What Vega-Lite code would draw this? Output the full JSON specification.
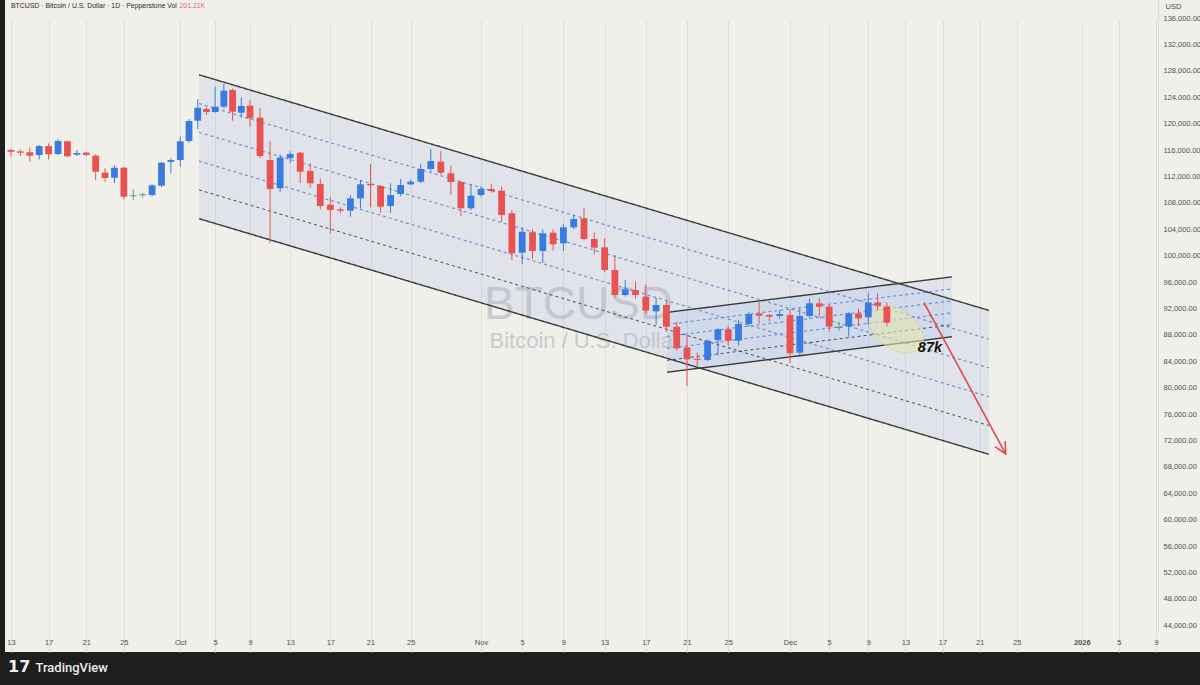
{
  "$schema": "https://vega.github.io/schema/vega-lite/v6.json",
  "autosize": {"type": "none"},
  "width": 1195,
  "height": 652,
  "padding": {"left": 5, "top": 0, "right": 0, "bottom": 33},
  "background": "#1e1e1e",
  "config": {
    "view": {"fill": "#f0efe9", "stroke": null},
    "font": "Liberation Sans",
    "axis": {"labelOverlap": false}
  },
  "datasets": {
    "candles": [
      {"d": "2025-09-13", "o": 116000, "h": 116200, "l": 115000, "c": 115750},
      {"d": "2025-09-14", "o": 115800, "h": 116110, "l": 115100, "c": 115590},
      {"d": "2025-09-15", "o": 115650, "h": 116410, "l": 114230, "c": 115140},
      {"d": "2025-09-16", "o": 115240, "h": 116760, "l": 114590, "c": 116610},
      {"d": "2025-09-17", "o": 116600, "h": 117010, "l": 114590, "c": 115350},
      {"d": "2025-09-18", "o": 115400, "h": 117670, "l": 115240, "c": 117360},
      {"d": "2025-09-19", "o": 117320, "h": 117400, "l": 114900, "c": 115050},
      {"d": "2025-09-20", "o": 115300, "h": 116000, "l": 115100, "c": 115550},
      {"d": "2025-09-21", "o": 115600, "h": 115700, "l": 115100, "c": 115250},
      {"d": "2025-09-22", "o": 115140, "h": 115350, "l": 111460, "c": 112710},
      {"d": "2025-09-23", "o": 112560, "h": 113230, "l": 111200, "c": 111760},
      {"d": "2025-09-24", "o": 111800, "h": 113700, "l": 111000, "c": 113320},
      {"d": "2025-09-25", "o": 113320, "h": 113470, "l": 108530, "c": 108930},
      {"d": "2025-09-26", "o": 109000, "h": 110050, "l": 108430, "c": 109150},
      {"d": "2025-09-27", "o": 109150, "h": 109530, "l": 108830, "c": 109300},
      {"d": "2025-09-28", "o": 109180, "h": 110800, "l": 108980, "c": 110650},
      {"d": "2025-09-29", "o": 110600, "h": 114200, "l": 110400, "c": 114080},
      {"d": "2025-09-30", "o": 114200, "h": 114740, "l": 112470, "c": 114490},
      {"d": "2025-10-01", "o": 114490, "h": 118020, "l": 113470, "c": 117320},
      {"d": "2025-10-02", "o": 117370, "h": 120700, "l": 117100, "c": 120400},
      {"d": "2025-10-03", "o": 120440, "h": 123680, "l": 119140, "c": 122410},
      {"d": "2025-10-04", "o": 122210, "h": 122470, "l": 121300, "c": 121760},
      {"d": "2025-10-05", "o": 121760, "h": 125590, "l": 121650, "c": 122560},
      {"d": "2025-10-06", "o": 122560, "h": 126000, "l": 122300, "c": 124990},
      {"d": "2025-10-07", "o": 125090, "h": 125300, "l": 120440, "c": 121800},
      {"d": "2025-10-08", "o": 121650, "h": 123990, "l": 120900, "c": 122670},
      {"d": "2025-10-09", "o": 122720, "h": 123580, "l": 119530, "c": 120800},
      {"d": "2025-10-10", "o": 120900, "h": 122320, "l": 114790, "c": 115090},
      {"d": "2025-10-11", "o": 114490, "h": 117400, "l": 101870, "c": 110090},
      {"d": "2025-10-12", "o": 110200, "h": 115300, "l": 109600, "c": 114840},
      {"d": "2025-10-13", "o": 114760, "h": 115800, "l": 114000, "c": 115400},
      {"d": "2025-10-14", "o": 115590, "h": 115700, "l": 111000, "c": 112710},
      {"d": "2025-10-15", "o": 112820, "h": 114000, "l": 110300, "c": 110960},
      {"d": "2025-10-16", "o": 110850, "h": 111700, "l": 107000, "c": 107520},
      {"d": "2025-10-17", "o": 107720, "h": 108900, "l": 103380, "c": 106910},
      {"d": "2025-10-18", "o": 107020, "h": 107320, "l": 106410, "c": 106810},
      {"d": "2025-10-19", "o": 106810, "h": 109180, "l": 105900, "c": 108680},
      {"d": "2025-10-20", "o": 108680, "h": 111460, "l": 107170, "c": 110810},
      {"d": "2025-10-21", "o": 110850, "h": 113880, "l": 107320, "c": 110650},
      {"d": "2025-10-22", "o": 110550, "h": 110700, "l": 106500, "c": 107410},
      {"d": "2025-10-23", "o": 107520, "h": 110950, "l": 106500, "c": 109180},
      {"d": "2025-10-24", "o": 109330, "h": 111600, "l": 109000, "c": 110700},
      {"d": "2025-10-25", "o": 110800, "h": 111500, "l": 110700, "c": 111200},
      {"d": "2025-10-26", "o": 111200, "h": 113900, "l": 111000, "c": 113120},
      {"d": "2025-10-27", "o": 113120, "h": 116150, "l": 112700, "c": 114340},
      {"d": "2025-10-28", "o": 114230, "h": 115850, "l": 112300, "c": 112560},
      {"d": "2025-10-29", "o": 112470, "h": 113600, "l": 109200, "c": 111150},
      {"d": "2025-10-30", "o": 111150, "h": 111300, "l": 106000, "c": 107170},
      {"d": "2025-10-31", "o": 107170, "h": 110800, "l": 106900, "c": 109080},
      {"d": "2025-11-01", "o": 109180, "h": 110500, "l": 108900, "c": 110090},
      {"d": "2025-11-02", "o": 110090, "h": 110900, "l": 109500, "c": 109790},
      {"d": "2025-11-03", "o": 109840, "h": 110450, "l": 105100, "c": 106160},
      {"d": "2025-11-04", "o": 106410, "h": 106910, "l": 99340, "c": 100350},
      {"d": "2025-11-05", "o": 100450, "h": 104300, "l": 98730, "c": 103620},
      {"d": "2025-11-06", "o": 103530, "h": 104000, "l": 99500, "c": 100700},
      {"d": "2025-11-07", "o": 100700, "h": 104000, "l": 98900, "c": 103380},
      {"d": "2025-11-08", "o": 103480, "h": 104000, "l": 100750, "c": 101720},
      {"d": "2025-11-09", "o": 101870, "h": 104750, "l": 100700, "c": 104290},
      {"d": "2025-11-10", "o": 104290, "h": 106200, "l": 104000, "c": 105550},
      {"d": "2025-11-11", "o": 105650, "h": 107170, "l": 102300, "c": 102520},
      {"d": "2025-11-12", "o": 102520, "h": 103500, "l": 100200, "c": 101200},
      {"d": "2025-11-13", "o": 101260, "h": 102600, "l": 97500, "c": 97820},
      {"d": "2025-11-14", "o": 97820, "h": 100090, "l": 93700, "c": 94030},
      {"d": "2025-11-15", "o": 94030, "h": 96300, "l": 93800, "c": 94900},
      {"d": "2025-11-16", "o": 94800, "h": 96100, "l": 93500, "c": 94030},
      {"d": "2025-11-17", "o": 93780, "h": 95700, "l": 91200, "c": 91660},
      {"d": "2025-11-18", "o": 91560, "h": 93600, "l": 89500, "c": 92520},
      {"d": "2025-11-19", "o": 92520, "h": 93200, "l": 88400, "c": 89230},
      {"d": "2025-11-20", "o": 89230, "h": 90000, "l": 85600, "c": 85960},
      {"d": "2025-11-21", "o": 86100, "h": 88000, "l": 80250, "c": 84290},
      {"d": "2025-11-22", "o": 84380, "h": 85300, "l": 83300, "c": 84200},
      {"d": "2025-11-23", "o": 84200, "h": 87300, "l": 84000, "c": 87110},
      {"d": "2025-11-24", "o": 87200, "h": 89000, "l": 84900, "c": 88840},
      {"d": "2025-11-25", "o": 88840, "h": 89300, "l": 86400, "c": 87110},
      {"d": "2025-11-26", "o": 87110, "h": 90300, "l": 86400, "c": 89640},
      {"d": "2025-11-27", "o": 89640, "h": 91500, "l": 89230, "c": 91160},
      {"d": "2025-11-28", "o": 91250, "h": 93200, "l": 89650, "c": 90900},
      {"d": "2025-11-29", "o": 91000, "h": 91160, "l": 90000, "c": 90750},
      {"d": "2025-11-30", "o": 90850, "h": 91760, "l": 90400, "c": 91150},
      {"d": "2025-12-01", "o": 91000, "h": 91800, "l": 83700, "c": 85200},
      {"d": "2025-12-02", "o": 85300, "h": 92020, "l": 84950, "c": 90850},
      {"d": "2025-12-03", "o": 90850, "h": 93500, "l": 90500, "c": 92780},
      {"d": "2025-12-04", "o": 92780, "h": 93530, "l": 90750, "c": 92270},
      {"d": "2025-12-05", "o": 92270, "h": 92520, "l": 88480, "c": 89230},
      {"d": "2025-12-06", "o": 89050, "h": 89900, "l": 88600, "c": 89200},
      {"d": "2025-12-07", "o": 89300, "h": 91500, "l": 87720, "c": 91250},
      {"d": "2025-12-08", "o": 91250, "h": 92000, "l": 89300, "c": 90500},
      {"d": "2025-12-09", "o": 90650, "h": 94290, "l": 89500, "c": 92900},
      {"d": "2025-12-10", "o": 92900, "h": 94300, "l": 91700, "c": 92400},
      {"d": "2025-12-11", "o": 92300, "h": 92900, "l": 89300, "c": 89840}
    ],
    "fills": [
      {"ch": "big", "t": "2025-10-03T03:30:00Z", "hi": 127400, "lo": 105600},
      {"ch": "big", "t": "2025-12-22T00:00:00Z", "hi": 91700, "lo": 69900},
      {"ch": "small", "t": "2025-11-19T01:30:00Z", "hi": 91400, "lo": 82330},
      {"ch": "small", "t": "2025-12-18T00:30:00Z", "hi": 96780, "lo": 87710}
    ],
    "lines": [
      {"t1": "2025-10-03T03:30:00Z", "p1": 127400, "t2": "2025-12-22T00:00:00Z", "p2": 91700, "k": "solid"},
      {"t1": "2025-10-03T03:30:00Z", "p1": 123040, "t2": "2025-12-22T00:00:00Z", "p2": 87340, "k": "blue"},
      {"t1": "2025-10-03T03:30:00Z", "p1": 118680, "t2": "2025-12-22T00:00:00Z", "p2": 82980, "k": "blue"},
      {"t1": "2025-10-03T03:30:00Z", "p1": 114320, "t2": "2025-12-22T00:00:00Z", "p2": 78620, "k": "blue"},
      {"t1": "2025-10-03T03:30:00Z", "p1": 109960, "t2": "2025-12-22T00:00:00Z", "p2": 74260, "k": "dark"},
      {"t1": "2025-10-03T03:30:00Z", "p1": 105600, "t2": "2025-12-22T00:00:00Z", "p2": 69900, "k": "solid"},
      {"t1": "2025-11-19T01:30:00Z", "p1": 91400, "t2": "2025-12-18T00:30:00Z", "p2": 96780, "k": "solid"},
      {"t1": "2025-11-19T01:30:00Z", "p1": 89586, "t2": "2025-12-18T00:30:00Z", "p2": 94966, "k": "blue"},
      {"t1": "2025-11-19T01:30:00Z", "p1": 87772, "t2": "2025-12-18T00:30:00Z", "p2": 93152, "k": "blue"},
      {"t1": "2025-11-19T01:30:00Z", "p1": 85958, "t2": "2025-12-18T00:30:00Z", "p2": 91338, "k": "blue"},
      {"t1": "2025-11-19T01:30:00Z", "p1": 84144, "t2": "2025-12-18T00:30:00Z", "p2": 89524, "k": "dark"},
      {"t1": "2025-11-19T01:30:00Z", "p1": 82330, "t2": "2025-12-18T00:30:00Z", "p2": 87710, "k": "solid"}
    ],
    "arrow": [
      {"t1": "2025-12-15T00:00:00Z", "p1": 92870, "t2": "2025-12-23T19:10:00Z", "p2": 69950}
    ],
    "notes": [
      {"kind": "zone", "t": "2025-12-11T23:40:00Z", "p": 88880, "label": ""},
      {"kind": "tip", "t": "2025-12-23T19:10:00Z", "p": 69950, "label": ""},
      {"kind": "target", "t": "2025-12-15T15:20:00Z", "p": 86060, "label": "87k"},
      {"kind": "wm1", "t": "2025-11-10T11:15:00Z", "p": 92500, "label": "BTCUSD"},
      {"kind": "wm2", "t": "2025-11-11T02:00:00Z", "p": 87070, "label": "Bitcoin / U.S. Dollar"},
      {"kind": "head", "t": "2025-09-13", "p": 137820, "label": "BTCUSD · Bitcoin / U.S. Dollar · 1D · Pepperstone  Vol"},
      {"kind": "vol", "t": "2025-09-30T22:00:00Z", "p": 137820, "label": "201.21K"},
      {"kind": "logo", "t": "2025-09-12T16:20:00Z", "p": 37680, "label": "17"}
    ]
  },
  "layer": [
    {
      "data": {"name": "fills"},
      "mark": {"type": "area", "fill": "#2962ff", "fillOpacity": 0.08},
      "encoding": {
        "x": {
          "field": "t",
          "type": "temporal",
          "scale": {
            "domain": [
              {"year": 2025, "month": 9, "date": 13, "utc": true},
              {"year": 2026, "month": 1, "date": 9, "utc": true}
            ],
            "domainRaw": {"expr": "[utc(2025,8,13), utc(2025,9,1), utc(2025,9,9), utc(2025,10,1), utc(2025,11,1), utc(2025,11,9), utc(2026,0,9)]"},
            "range": [6, 175.3, 245, 476, 785, 863.3, 1151],
            "nice": false
          },
          "axis": {
            "orient": "bottom",
            "offset": -20,
            "values": [
              {"year": 2025, "month": 9, "date": 13, "utc": true},
              {"year": 2025, "month": 9, "date": 17, "utc": true},
              {"year": 2025, "month": 9, "date": 21, "utc": true},
              {"year": 2025, "month": 9, "date": 25, "utc": true},
              {"year": 2025, "month": 10, "date": 1, "utc": true},
              {"year": 2025, "month": 10, "date": 5, "utc": true},
              {"year": 2025, "month": 10, "date": 9, "utc": true},
              {"year": 2025, "month": 10, "date": 13, "utc": true},
              {"year": 2025, "month": 10, "date": 17, "utc": true},
              {"year": 2025, "month": 10, "date": 21, "utc": true},
              {"year": 2025, "month": 10, "date": 25, "utc": true},
              {"year": 2025, "month": 11, "date": 1, "utc": true},
              {"year": 2025, "month": 11, "date": 5, "utc": true},
              {"year": 2025, "month": 11, "date": 9, "utc": true},
              {"year": 2025, "month": 11, "date": 13, "utc": true},
              {"year": 2025, "month": 11, "date": 17, "utc": true},
              {"year": 2025, "month": 11, "date": 21, "utc": true},
              {"year": 2025, "month": 11, "date": 25, "utc": true},
              {"year": 2025, "month": 12, "date": 1, "utc": true},
              {"year": 2025, "month": 12, "date": 5, "utc": true},
              {"year": 2025, "month": 12, "date": 9, "utc": true},
              {"year": 2025, "month": 12, "date": 13, "utc": true},
              {"year": 2025, "month": 12, "date": 17, "utc": true},
              {"year": 2025, "month": 12, "date": 21, "utc": true},
              {"year": 2025, "month": 12, "date": 25, "utc": true},
              {"year": 2026, "month": 1, "date": 1, "utc": true},
              {"year": 2026, "month": 1, "date": 5, "utc": true},
              {"year": 2026, "month": 1, "date": 9, "utc": true}
            ],
            "labelExpr": "utcdate(datum.value) == 1 ? (utcmonth(datum.value) == 0 ? utcFormat(datum.value, '%Y') : utcFormat(datum.value, '%b')) : utcFormat(datum.value, '%-d')",
            "labelFontWeight": {"condition": {"test": "utcdate(datum.value) == 1 && utcmonth(datum.value) == 0", "value": "bold"}, "value": "normal"},
            "labelFontSize": 7.5,
            "labelColor": "#505050",
            "labelPadding": 6,
            "labelOverlap": false,
            "labelFlush": false,
            "labelBound": false,
            "ticks": false,
            "domain": false,
            "grid": true,
            "gridColor": "#e0dfd8",
            "gridWidth": 1,
            "title": "TradingView",
            "titleX": 30,
            "titleY": 35,
            "titleAlign": "left",
            "titleBaseline": "middle",
            "titleColor": "#ececec",
            "titleFont": "Roboto",
            "titleFontSize": 13,
            "titleFontWeight": 500
          }
        },
        "y": {
          "field": "hi",
          "type": "quantitative",
          "scale": {"domain": [42979, 138727], "range": [632, 0], "zero": false, "nice": false},
          "axis": {
            "orient": "right",
            "offset": -42,
            "values": [44000, 48000, 52000, 56000, 60000, 64000, 68000, 72000, 76000, 80000, 84000, 88000, 92000, 96000, 100000, 104000, 108000, 112000, 116000, 120000, 124000, 128000, 132000, 136000],
            "tickCount": 30,
            "format": ",.2f",
            "grid": false,
            "ticks": false,
            "domain": true,
            "domainColor": "#dcdbd3",
            "labelAlign": "left",
            "labelPadding": 5,
            "labelFontSize": 7.5,
            "labelColor": "#505050",
            "labelOverlap": false,
            "labelSeparation": -30,
            "labelBound": false,
            "labelFlush": false,
            "title": "USD",
            "titleAngle": 0,
            "titleX": 7,
            "titleY": 6,
            "titleAlign": "left",
            "titleBaseline": "middle",
            "titleFontSize": 7.5,
            "titleFontWeight": "normal",
            "titleColor": "#505050"
          }
        },
        "y2": {"field": "lo"},
        "detail": {"field": "ch"}
      }
    },
    {
      "data": {"name": "notes"},
      "transform": [{"filter": "datum.kind == 'wm1'"}],
      "mark": {"type": "text", "fontSize": 46, "color": "#b9bcc4", "opacity": 0.7, "align": "center", "baseline": "middle"},
      "encoding": {
        "x": {"field": "t", "type": "temporal"},
        "y": {"field": "p", "type": "quantitative"},
        "text": {"field": "label"}
      }
    },
    {
      "data": {"name": "notes"},
      "transform": [{"filter": "datum.kind == 'wm2'"}],
      "mark": {"type": "text", "fontSize": 22, "color": "#b9bcc4", "opacity": 0.7, "align": "center", "baseline": "middle"},
      "encoding": {
        "x": {"field": "t", "type": "temporal"},
        "y": {"field": "p", "type": "quantitative"},
        "text": {"field": "label"}
      }
    },
    {
      "data": {"name": "lines"},
      "mark": {"type": "rule"},
      "encoding": {
        "x": {"field": "t1", "type": "temporal"},
        "x2": {"field": "t2"},
        "y": {"field": "p1", "type": "quantitative"},
        "y2": {"field": "p2"},
        "color": {"field": "k", "type": "nominal", "scale": {"domain": ["solid", "blue", "dark"], "range": ["#3a3a3a", "#6f8ad0", "#3a3a3a"]}, "legend": null},
        "strokeDash": {"field": "k", "type": "nominal", "scale": {"domain": ["solid", "blue", "dark"], "range": [[1, 0], [3, 3], [3, 3]]}, "legend": null},
        "strokeWidth": {"field": "k", "type": "nominal", "scale": {"domain": ["solid", "blue", "dark"], "range": [1.4, 0.9, 1]}, "legend": null}
      }
    },
    {
      "data": {"name": "notes"},
      "transform": [{"filter": "datum.kind == 'zone'"}],
      "mark": {"type": "point", "shape": "M -1 0 A 1 0.633 0 1 1 1 0 A 1 0.633 0 1 1 -1 0 Z", "filled": true, "fill": "#e4e6b0", "fillOpacity": 0.6, "stroke": "#cfd08a", "strokeWidth": 1, "strokeOpacity": 0.5, "opacity": 1, "size": 3800, "angle": 35},
      "encoding": {
        "x": {"field": "t", "type": "temporal"},
        "y": {"field": "p", "type": "quantitative"}
      }
    },
    {
      "data": {"name": "candles"},
      "mark": {"type": "rule", "strokeWidth": 1},
      "encoding": {
        "x": {"field": "d", "type": "temporal"},
        "y": {"field": "l", "type": "quantitative"},
        "y2": {"field": "h"},
        "color": {
          "condition": [
            {"test": "abs(datum.c - datum.o) <= 150", "value": "#4f9e96"},
            {"test": "datum.c > datum.o", "value": "#3a7be0"}
          ],
          "value": "#e85352"
        }
      }
    },
    {
      "data": {"name": "candles"},
      "mark": {"type": "bar", "width": 6.8},
      "encoding": {
        "x": {"field": "d", "type": "temporal"},
        "y": {"field": "o", "type": "quantitative"},
        "y2": {"field": "c"},
        "color": {
          "condition": [
            {"test": "abs(datum.c - datum.o) <= 150", "value": "#4f9e96"},
            {"test": "datum.c > datum.o", "value": "#3a7be0"}
          ],
          "value": "#e85352"
        }
      }
    },
    {
      "data": {"name": "arrow"},
      "mark": {"type": "rule", "color": "#e0474c", "strokeWidth": 1.6},
      "encoding": {
        "x": {"field": "t1", "type": "temporal"},
        "x2": {"field": "t2"},
        "y": {"field": "p1", "type": "quantitative"},
        "y2": {"field": "p2"}
      }
    },
    {
      "data": {"name": "notes"},
      "transform": [{"filter": "datum.kind == 'tip'"}],
      "mark": {"type": "point", "shape": "M -0.5 -1 L 0 0 L 0.5 -1", "filled": false, "stroke": "#e0474c", "strokeWidth": 1.6, "opacity": 1, "size": 540, "angle": 331.5},
      "encoding": {
        "x": {"field": "t", "type": "temporal"},
        "y": {"field": "p", "type": "quantitative"}
      }
    },
    {
      "data": {"name": "notes"},
      "transform": [{"filter": "datum.kind == 'target'"}],
      "mark": {"type": "text", "fontSize": 14.5, "fontWeight": "bold", "fontStyle": "italic", "color": "#111111", "align": "center", "baseline": "middle"},
      "encoding": {
        "x": {"field": "t", "type": "temporal"},
        "y": {"field": "p", "type": "quantitative"},
        "text": {"field": "label"}
      }
    },
    {
      "data": {"name": "notes"},
      "transform": [{"filter": "datum.kind == 'head'"}],
      "mark": {"type": "text", "fontSize": 6.9, "color": "#2b2b2b", "align": "left", "baseline": "middle"},
      "encoding": {
        "x": {"field": "t", "type": "temporal"},
        "y": {"field": "p", "type": "quantitative"},
        "text": {"field": "label"}
      }
    },
    {
      "data": {"name": "notes"},
      "transform": [{"filter": "datum.kind == 'vol'"}],
      "mark": {"type": "text", "fontSize": 6.9, "color": "#e06a72", "align": "left", "baseline": "middle"},
      "encoding": {
        "x": {"field": "t", "type": "temporal"},
        "y": {"field": "p", "type": "quantitative"},
        "text": {"field": "label"}
      }
    },
    {
      "data": {"name": "notes"},
      "transform": [{"filter": "datum.kind == 'logo'"}],
      "mark": {"type": "text", "fontSize": 16, "fontWeight": "bold", "font": "DejaVu Sans", "color": "#f2f2f2", "align": "left", "baseline": "middle"},
      "encoding": {
        "x": {"field": "t", "type": "temporal"},
        "y": {"field": "p", "type": "quantitative"},
        "text": {"field": "label"}
      }
    }
  ]
}
